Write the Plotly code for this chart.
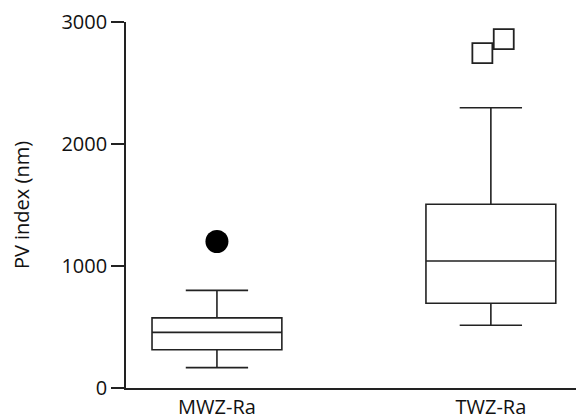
import plotly.graph_objects as go

categories = ["MWZ-Ra", "TWZ-Ra"]
q1 = [313, 695]
median = [456, 1041]
q3 = [575, 1506]
lowerfence = [167, 514]
upperfence = [800, 2297]

# outliers
mwz_outliers = [1201]
twz_outliers = [2745, 2860]
twz_jitter = [-0.031, 0.047]

yticks = [0, 1000, 2000, 3000]

font = dict(family="Open Sans", size=20, color="#111")
line_col = "#222"

fig = go.Figure()
for i, cat in enumerate(categories):
    fig.add_trace(go.Box(
        x=[i], q1=[q1[i]], median=[median[i]], q3=[q3[i]],
        lowerfence=[lowerfence[i]], upperfence=[upperfence[i]],
        width=0.474, whiskerwidth=0.48,
        fillcolor="white", line=dict(color=line_col, width=1.6),
        boxpoints=False, showlegend=False, hoverinfo="skip",
    ))

fig.add_trace(go.Scatter(
    x=[0] * len(mwz_outliers), y=mwz_outliers, mode="markers",
    marker=dict(symbol="circle", size=23, color="black", line=dict(width=0)),
    showlegend=False,
))
fig.add_trace(go.Scatter(
    x=[1 + j for j in twz_jitter][::-1], y=twz_outliers[::-1], mode="markers",
    marker=dict(symbol="square", size=20, color="white", line=dict(color=line_col, width=1.8)),
    showlegend=False,
))

# page body has an 8px default margin; size the figure so it fills 584x420
fig.update_layout(
    width=576, height=412,
    margin=dict(l=118, r=0, t=11, b=29),
    paper_bgcolor="white", plot_bgcolor="white",
    font=font,
    xaxis=dict(
        range=[-0.332, 1.34], tickvals=[0, 1], ticktext=categories,
        showline=True, linecolor=line_col, linewidth=1.6,
        ticks="", showgrid=False, zeroline=False, fixedrange=True,
        ticklabeloverflow="allow",
    ),
    yaxis=dict(
        range=[0, 3000.5], tickvals=yticks, ticktext=[str(v) for v in yticks],
        showline=True, linecolor=line_col, linewidth=1.6,
        ticks="outside", ticklen=13, tickwidth=1.6, tickcolor=line_col,
        showgrid=False, zeroline=False, ticklabeloverflow="allow",
        title=dict(text="PV index (nm)", standoff=26, font=font),
    ),
)

fig.write_html("out.html")
